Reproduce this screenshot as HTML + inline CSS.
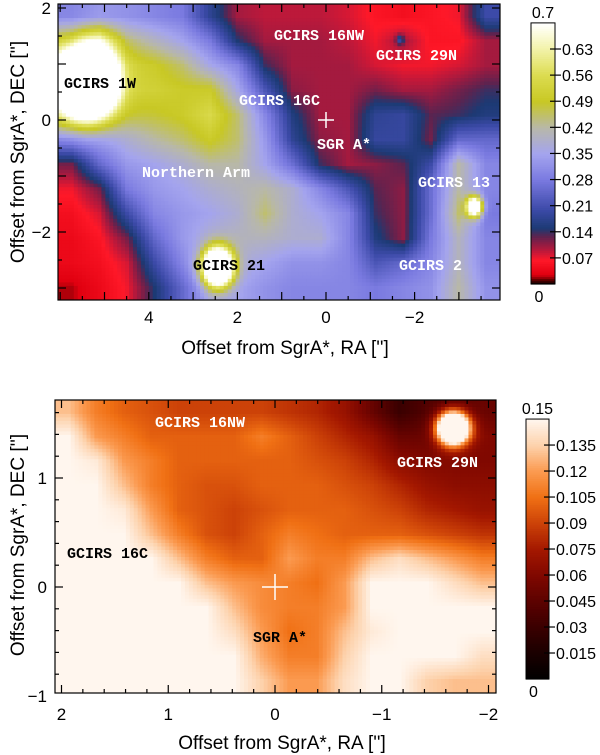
<!DOCTYPE html>
<html><head><meta charset="utf-8">
<style>
html,body{margin:0;padding:0;background:#fff;}
svg{display:block;}
.tick{font-family:"Liberation Sans",sans-serif;font-size:17px;fill:#000;}
.cbl{font-family:"Liberation Sans",sans-serif;font-size:16px;fill:#000;}
.axt{font-family:"Liberation Sans",sans-serif;font-size:19px;fill:#000;}
.ml{font-family:"Liberation Mono",monospace;font-weight:bold;font-size:15px;}
</style></head>
<body>
<svg id="fig" width="600" height="755" viewBox="0 0 600 755" xmlns="http://www.w3.org/2000/svg">
<defs>
<clipPath id="clipTop"><rect x="58" y="4" width="442" height="296"/></clipPath>
<clipPath id="clipBot"><rect x="55" y="400" width="441" height="293"/></clipPath>
</defs>
<g id="topMap" clip-path="url(#clipTop)"></g>
<g id="botMap" clip-path="url(#clipBot)"></g>
<g id="overlay"></g>
</svg>
<script>
// ---------- data: top map (values 0..0.7), rows top->bottom, cols left->right ----------
const topRows = [
[0.30,0.33,0.32,0.30,0.28,0.18,0.10,0.09,0.09,0.09,0.08,0.06,0.05,0.06,0.07,0.20],
[0.50,0.60,0.45,0.40,0.35,0.28,0.15,0.10,0.10,0.10,0.09,0.07,0.10,0.06,0.06,0.10],
[0.70,0.70,0.52,0.50,0.45,0.36,0.30,0.14,0.10,0.10,0.10,0.08,0.07,0.07,0.08,0.10],
[0.70,0.65,0.52,0.52,0.50,0.50,0.36,0.22,0.11,0.10,0.10,0.12,0.10,0.10,0.12,0.14],
[0.55,0.50,0.47,0.48,0.50,0.55,0.45,0.30,0.16,0.10,0.10,0.18,0.19,0.13,0.14,0.16],
[0.30,0.33,0.38,0.42,0.45,0.50,0.45,0.33,0.18,0.11,0.10,0.19,0.19,0.12,0.25,0.25],
[0.12,0.25,0.33,0.35,0.38,0.42,0.42,0.35,0.26,0.14,0.10,0.11,0.13,0.20,0.42,0.30],
[0.07,0.12,0.28,0.33,0.35,0.38,0.40,0.42,0.38,0.30,0.22,0.13,0.11,0.26,0.42,0.30],
[0.05,0.08,0.20,0.30,0.33,0.35,0.38,0.45,0.38,0.35,0.30,0.14,0.11,0.26,0.45,0.28],
[0.04,0.06,0.12,0.25,0.33,0.38,0.40,0.40,0.38,0.38,0.30,0.16,0.11,0.28,0.40,0.30],
[0.04,0.05,0.08,0.20,0.30,0.40,0.38,0.35,0.32,0.32,0.30,0.22,0.25,0.30,0.40,0.30],
[0.02,0.04,0.07,0.15,0.25,0.35,0.35,0.32,0.30,0.30,0.30,0.28,0.30,0.32,0.42,0.32]
];
const topSrcNames = ["GCIRS 1W","GCIRS 21","GCIRS 13","GCIRS 16NW dot"];
const topSrcX = [5.36, 2.44, -3.35, -1.67];
const topSrcY = [0.66, -2.63, -1.55, 1.43];
const topSrcAmp = [1.0, 0.9, 0.6, 0.1];
const topSrcSig = [0.38, 0.22, 0.12, 0.06];
const topXTicks = [4,2,0,-2];
const topYTicks = [2,0,-2];
const topCbTicks = [0.63,0.56,0.49,0.42,0.35,0.28,0.21,0.14,0.07];

// ---------- data: bottom map (values 0..0.15) ----------
const botRows = [
[0.13,0.11,0.10,0.095,0.09,0.09,0.09,0.09,0.085,0.08,0.07,0.05,0.03,0.04,0.04,0.05],
[0.15,0.12,0.11,0.10,0.10,0.10,0.10,0.11,0.10,0.09,0.08,0.07,0.05,0.05,0.06,0.06],
[0.15,0.145,0.12,0.11,0.10,0.10,0.10,0.10,0.10,0.095,0.09,0.08,0.065,0.06,0.06,0.06],
[0.15,0.15,0.13,0.11,0.10,0.095,0.095,0.10,0.10,0.10,0.095,0.09,0.08,0.07,0.065,0.065],
[0.15,0.15,0.145,0.12,0.10,0.095,0.09,0.095,0.10,0.10,0.10,0.095,0.09,0.08,0.075,0.07],
[0.15,0.15,0.15,0.13,0.11,0.095,0.09,0.10,0.11,0.105,0.10,0.10,0.10,0.095,0.09,0.085],
[0.15,0.15,0.15,0.15,0.13,0.11,0.10,0.10,0.12,0.11,0.11,0.13,0.14,0.13,0.12,0.11],
[0.15,0.15,0.15,0.15,0.15,0.13,0.12,0.115,0.11,0.105,0.12,0.15,0.15,0.15,0.14,0.13],
[0.15,0.15,0.15,0.15,0.15,0.15,0.13,0.115,0.11,0.11,0.12,0.15,0.15,0.15,0.15,0.15],
[0.15,0.15,0.15,0.15,0.15,0.15,0.14,0.12,0.105,0.11,0.13,0.145,0.15,0.15,0.15,0.15],
[0.15,0.15,0.15,0.15,0.15,0.15,0.15,0.125,0.11,0.11,0.135,0.15,0.15,0.15,0.15,0.14],
[0.15,0.15,0.15,0.15,0.15,0.15,0.15,0.135,0.12,0.12,0.14,0.15,0.15,0.135,0.13,0.13]
];
const botSrcNames = ["GCIRS 29N"];
const botSrcX = [-1.67];
const botSrcY = [1.46];
const botSrcAmp = [0.25];
const botSrcSig = [0.1];
const botXTicks = [2,1,0,-1,-2];
const botYTicks = [1,0,-1];
const botCbTicks = [0.135,0.12,0.105,0.09,0.075,0.06,0.045,0.03,0.015];

// ---------- colormaps ----------
const topStops=[[0,"#000000"],[0.012,"#600000"],[0.025,"#e00010"],[0.065,"#ff1828"],[0.085,"#c81838"],[0.11,"#8c1c44"],[0.13,"#5a2450"],[0.15,"#1c3a74"],[0.2,"#3c4aa8"],[0.28,"#7a7ae0"],[0.35,"#a4a4ee"],[0.42,"#b8b8a8"],[0.49,"#c8c824"],[0.56,"#dcdc50"],[0.63,"#f2f2a8"],[0.69,"#fffff4"],[0.7,"#ffffff"]];
const botStops=[[0,"#000000"],[0.015,"#1a0000"],[0.03,"#3a0000"],[0.045,"#5c0200"],[0.06,"#800800"],[0.075,"#a41800"],[0.09,"#cc4208"],[0.105,"#f07014"],[0.12,"#fb9a50"],[0.135,"#fdd2ac"],[0.15,"#fff6ee"]];
function hex(c){return [parseInt(c.slice(1,3),16),parseInt(c.slice(3,5),16),parseInt(c.slice(5,7),16)];}
function cmap(stops,v){
  if(v<=stops[0][0])return stops[0][1];
  for(let i=1;i<stops.length;i++){
    if(v<=stops[i][0]){const a=hex(stops[i-1][1]),b=hex(stops[i][1]);const t=(v-stops[i-1][0])/(stops[i][0]-stops[i-1][0]);
      return "rgb("+a.map((x,k)=>Math.round(x+(b[k]-x)*t)).join(",")+")";}
  }
  return stops[stops.length-1][1];
}
const NS="http://www.w3.org/2000/svg";
function el(tag,attrs,parent){const e=document.createElementNS(NS,tag);for(const k in attrs)e.setAttribute(k,attrs[k]);(parent||document.getElementById('overlay')).appendChild(e);return e;}

// axis functions
const topX=v=>326-44.3*v, topY=v=>120-56*v;
const botX=v=>275-106.75*v, botY=v=>587-109*v;
const topCbY=v=>284-373*v, botCbY=v=>679-1733*v;

function drawMap(g,rows,sx,sy,sa,ss,x0,y0,w,h,vmax,stops,xInv,yInv){
  const nr=rows.length,nc=rows[0].length,cw=w/nc,ch=h/nr,sub=7,fw=cw/sub,fh=ch/sub;
  for(let j=0;j<nr*sub;j++){for(let i=0;i<nc*sub;i++){
    const px=x0+(i+0.5)*fw,py=y0+(j+0.5)*fh;
    let gx=Math.min(Math.max((px-x0)/cw-0.5,0),nc-1),gy=Math.min(Math.max((py-y0)/ch-0.5,0),nr-1);
    const c0=Math.min(Math.floor(gx),nc-2),r0=Math.min(Math.floor(gy),nr-2),tx=gx-c0,ty=gy-r0;
    let v=rows[r0][c0]*(1-tx)*(1-ty)+rows[r0][c0+1]*tx*(1-ty)+rows[r0+1][c0]*(1-tx)*ty+rows[r0+1][c0+1]*tx*ty;
    const dx=xInv(px),dy=yInv(py);
    for(let s=0;s<sx.length;s++){const r2=(dx-sx[s])**2+(dy-sy[s])**2;v+=sa[s]*Math.exp(-r2/(2*ss[s]*ss[s]));}
    v=Math.min(v,vmax);
    const r=el('rect',{x:(x0+i*fw).toFixed(2),y:(y0+j*fh).toFixed(2),width:(fw+0.5).toFixed(2),height:(fh+0.5).toFixed(2),fill:cmap(stops,v)},g);
    
    
  }}
}
drawMap(document.getElementById('topMap'),topRows,topSrcX,topSrcY,topSrcAmp,topSrcSig,58,4,442,296,0.7,topStops,p=>(326-p)/44.3,p=>(120-p)/56);
drawMap(document.getElementById('botMap'),botRows,botSrcX,botSrcY,botSrcAmp,botSrcSig,55,400,441,293,0.15,botStops,p=>(275-p)/106.75,p=>(587-p)/109);

// frames & ticks
function frame(x0,y0,w,h,name){const r=el('rect',{x:x0,y:y0,width:w,height:h,fill:'none',stroke:'#000','stroke-width':1.2});}
frame(58,4,442,296,'top-plot-frame');
frame(55,400,441,293,'bottom-plot-frame');
function ticks(xf,yf,x0,x1,y0,y1,xmin,xmax,xstep,ymin,ymax,ystep){
  for(let v=xmin;v<=xmax+1e-9;v+=xstep){const p=xf(v);if(p<x0||p>x1)continue;const maj=Math.abs(v-Math.round(v))<1e-6;const L=maj?8:4;
    el('line',{x1:p,x2:p,y1:y1,y2:y1-L,stroke:'#000','stroke-width':1.2});el('line',{x1:p,x2:p,y1:y0,y2:y0+L,stroke:'#000','stroke-width':1.2});}
  for(let v=ymin;v<=ymax+1e-9;v+=ystep){const p=yf(v);if(p<y0||p>y1)continue;const maj=Math.abs(v-Math.round(v))<1e-6;const L=maj?8:4;
    el('line',{x1:x0,x2:x0+L,y1:p,y2:p,stroke:'#000','stroke-width':1.2});el('line',{x1:x1,x2:x1-L,y1:p,y2:p,stroke:'#000','stroke-width':1.2});}
}
ticks(topX,topY,58,500,4,300,-4,6,0.5,-3,2,0.5);
ticks(botX,botY,55,496,400,693,-2,2,0.2,-1,1.6,0.2);

function txt(x,y,s,cls,name,extra){const t=el('text',Object.assign({x:x,y:y,class:cls},extra||{}));t.textContent=s;return t;}
topXTicks.forEach(v=>txt(topX(v),323,String(v).replace('-','−'),'tick','x-tick-label',{'text-anchor':'middle'}));
topYTicks.forEach(v=>txt(51,topY(v)+6,String(v).replace('-','−'),'tick','y-tick-label',{'text-anchor':'end'}));
botXTicks.forEach(v=>txt(botX(v),720,String(v).replace('-','−'),'tick','x-tick-label',{'text-anchor':'middle'}));
botYTicks.forEach(v=>txt(47,botY(v)+6,String(v).replace('-','−'),'tick','y-tick-label',{'text-anchor':'end'}));

txt(285,354,"Offset from SgrA*, RA ['']",'axt','x-axis-title',{'text-anchor':'middle'});
txt(24,152,"Offset from SgrA*, DEC ['']",'axt','y-axis-title',{'text-anchor':'middle',transform:'rotate(-90 24 152)'});
txt(282,749,"Offset from SgrA*, RA ['']",'axt','x-axis-title',{'text-anchor':'middle'});
txt(24,545,"Offset from SgrA*, DEC ['']",'axt','y-axis-title',{'text-anchor':'middle',transform:'rotate(-90 24 545)'});

// colorbars
function colorbar(x,w,yf,vmax,stops,ticksArr,topLbl,name){
  const n=140;
  for(let k=0;k<n;k++){const v0=vmax*k/n,v1=vmax*(k+1)/n;const r=el('rect',{x:x,y:yf(v1),width:w,height:(yf(v0)-yf(v1)+0.6),fill:cmap(stops,(v0+v1)/2)});
    }
  const f=el('rect',{x:x,y:yf(vmax),width:w,height:yf(0)-yf(vmax),fill:'none',stroke:'#000','stroke-width':1});
  ticksArr.forEach(v=>{el('line',{x1:x+w-5,x2:x+w+6,y1:yf(v),y2:yf(v),stroke:'#000','stroke-width':1.2});txt(x+w+7,yf(v)+6,String(v),'cbl','colorbar-tick-label');});
  txt(x+w/2,yf(vmax)-5,topLbl,'cbl','colorbar-max-label',{'text-anchor':'middle'});
  txt(x+w/2-4,yf(0)+18,'0','cbl','colorbar-min-label',{'text-anchor':'middle'});
}
colorbar(531,24,topCbY,0.7,topStops,topCbTicks,'0.7','top-colorbar');
colorbar(526,23,botCbY,0.15,botStops,botCbTicks,'0.15','bottom-colorbar');

// crosshairs
function cross(x,y,s,name){const g=el('g',{});
  el('line',{x1:x-s,x2:x+s,y1:y,y2:y,stroke:'#fff','stroke-width':1.5},g);el('line',{x1:x,x2:x,y1:y-s,y2:y+s,stroke:'#fff','stroke-width':1.5},g);}
cross(topX(0),topY(0),8,'sgr-a-star-marker');
cross(botX(0),botY(0),13,'sgr-a-star-marker');

// map annotations
const ann=[
 [274,40,'GCIRS 16NW','#fff'],[376,60,'GCIRS 29N','#fff'],[64,88,'GCIRS 1W','#000'],[239,105,'GCIRS 16C','#fff'],
 [317,149,'SGR A*','#fff'],[142,177,'Northern Arm','#fff'],[418,187,'GCIRS 13','#fff'],[193,270,'GCIRS 21','#000'],[399,270,'GCIRS 2','#fff'],
 [155,427,'GCIRS 16NW','#fff'],[397,467,'GCIRS 29N','#fff'],[67,558,'GCIRS 16C','#000'],[253,642,'SGR A*','#000']
];
ann.forEach(a=>txt(a[0],a[1],a[2],'ml','source-label',{fill:a[3]}));
</script>
</body></html>
